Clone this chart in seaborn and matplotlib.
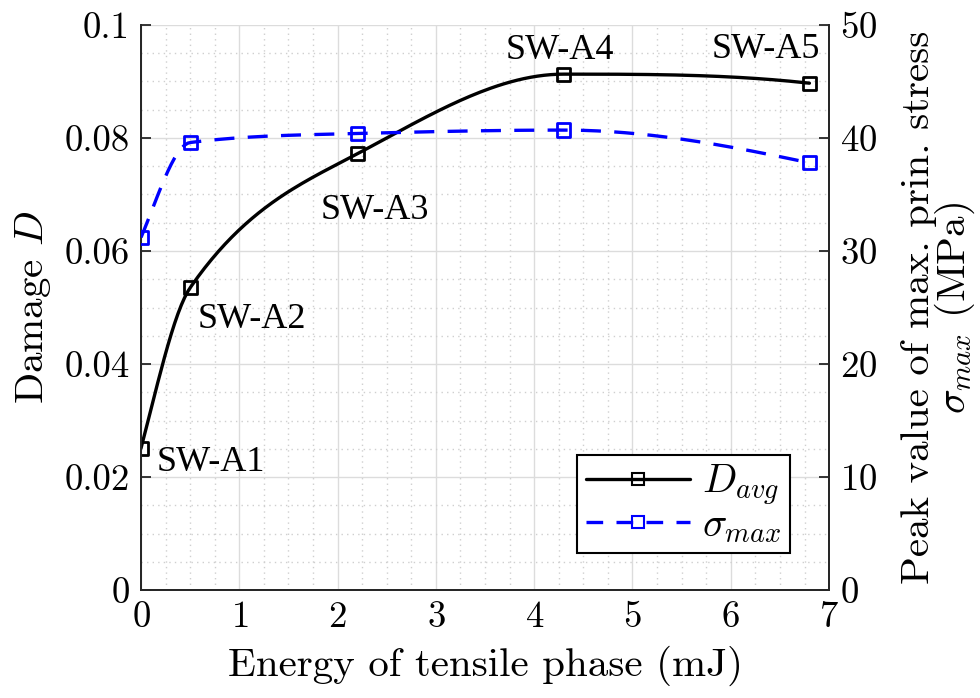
import numpy as np
import pandas as pd
import matplotlib
matplotlib.use("Agg")
import matplotlib.pyplot as plt
from matplotlib.lines import Line2D
from matplotlib.ticker import MultipleLocator, FuncFormatter
import seaborn as sns

# data
energy = [0.0, 0.5, 2.2, 4.3, 6.8]
damage = [0.0251, 0.0535, 0.0772, 0.0913, 0.0897]
sigma_max = [31.2, 39.6, 40.4, 40.7, 37.8]
specimens = ["SW-A1", "SW-A2", "SW-A3", "SW-A4", "SW-A5"]
label_x = [0.16, 0.58, 1.83, 3.71, 5.81]
label_y = [0.0225, 0.0478, 0.0671, 0.0954, 0.0956]


def pchip(x, y, n=200):
    # shape preserving cubic through the measured points (how the line is drawn)
    x = np.asarray(x, float)
    y = np.asarray(y, float)
    h = np.diff(x)
    d = np.diff(y) / h
    m = np.zeros_like(y)
    for k in range(1, len(x) - 1):
        if d[k - 1] * d[k] > 0:
            w1 = 2 * h[k] + h[k - 1]
            w2 = h[k] + 2 * h[k - 1]
            m[k] = (w1 + w2) / (w1 / d[k - 1] + w2 / d[k])
    m[0] = ((2 * h[0] + h[1]) * d[0] - h[0] * d[1]) / (h[0] + h[1])
    if np.sign(m[0]) != np.sign(d[0]):
        m[0] = 0
    elif np.sign(d[0]) != np.sign(d[1]) and abs(m[0]) > abs(3 * d[0]):
        m[0] = 3 * d[0]
    m[-1] = ((2 * h[-1] + h[-2]) * d[-1] - h[-1] * d[-2]) / (h[-1] + h[-2])
    if np.sign(m[-1]) != np.sign(d[-1]):
        m[-1] = 0
    elif np.sign(d[-1]) != np.sign(d[-2]) and abs(m[-1]) > abs(3 * d[-1]):
        m[-1] = 3 * d[-1]
    xs = np.linspace(x[0], x[-1], n)
    idx = np.clip(np.searchsorted(x, xs) - 1, 0, len(x) - 2)
    t = (xs - x[idx]) / h[idx]
    h00 = 2 * t**3 - 3 * t**2 + 1
    h10 = t**3 - 2 * t**2 + t
    h01 = -2 * t**3 + 3 * t**2
    h11 = t**3 - t**2
    ys = h00 * y[idx] + h10 * h[idx] * m[idx] + h01 * y[idx + 1] + h11 * h[idx] * m[idx + 1]
    return xs, ys


sns.set_style("white")
plt.rcParams["font.family"] = "serif"
plt.rcParams["font.serif"] = ["cmr10"]
plt.rcParams["mathtext.fontset"] = "cm"
plt.rcParams["axes.formatter.use_mathtext"] = True
plt.rcParams["axes.unicode_minus"] = False
plt.rcParams["text.color"] = "black"
plt.rcParams["axes.labelcolor"] = "black"

fs_tick = 26.5
fs_lab = 29.5
fs_note = 26
spine_col = "#262626"

fig = plt.figure(figsize=(9.8, 6.98), dpi=100)
ax = fig.add_axes([0.1439, 0.1547, 0.7021, 0.8095])
ax2 = ax.twinx()

df = pd.DataFrame({"energy": energy, "damage": damage, "sigma": sigma_max})

xs, ys = pchip(energy, damage)
sns.lineplot(x=xs, y=ys, ax=ax, color="black", lw=2.4, sort=False, zorder=3)
sns.scatterplot(data=df, x="energy", y="damage", ax=ax, marker="s", s=90,
                facecolor="none", edgecolor="black", linewidth=2, zorder=4)

xs2, ys2 = pchip(energy, sigma_max)
sns.lineplot(x=xs2, y=ys2, ax=ax2, color="#0000ff", lw=2.4, sort=False,
             dashes=False, zorder=3)
ax2.lines[-1].set_dashes([6, 4])
sns.scatterplot(data=df, x="energy", y="sigma", ax=ax2, marker="s", s=90,
                facecolor="none", edgecolor="#0000ff", linewidth=2, zorder=4)

for name, lx, ly in zip(specimens, label_x, label_y):
    ax.text(lx, ly, name, fontsize=fs_note, family="Liberation Serif",
            color="black", ha="left", va="center", zorder=5)

ax.set_xlim(0, 7)
ax.set_ylim(0, 0.1)
ax2.set_ylim(0, 50)
ax.xaxis.set_major_locator(MultipleLocator(1))
ax.xaxis.set_minor_locator(MultipleLocator(0.25))
ax.yaxis.set_major_locator(MultipleLocator(0.02))
ax.yaxis.set_minor_locator(MultipleLocator(0.005))
ax2.yaxis.set_major_locator(MultipleLocator(10))
ax.yaxis.set_major_formatter(FuncFormatter(
    lambda v, p: "0" if v == 0 else ("0.1" if abs(v - 0.1) < 1e-9 else f"{v:.2f}")))

ax.grid(which="major", color="#dcdcdc", lw=1.0, ls="-")
ax.grid(which="minor", color="#cfcfcf", lw=1.0, ls=(0, (1, 3)))
ax.set_axisbelow(True)

ax.tick_params(axis="both", which="major", direction="in", length=7, width=1.3,
               labelsize=fs_tick, colors=spine_col, labelcolor="black", pad=8)
ax.tick_params(axis="both", which="minor", length=0)
ax2.tick_params(axis="y", which="major", direction="in", length=7, width=1.3,
                labelsize=fs_tick, colors=spine_col, labelcolor="black", pad=8)

for a in (ax, ax2):
    for s in a.spines.values():
        s.set_color(spine_col)
        s.set_linewidth(1.3)
    a.spines["top"].set_visible(False)

ax.set_xlabel("Energy of tensile phase (mJ)", fontsize=fs_lab, labelpad=8)
ax.set_ylabel("Damage $D$", fontsize=fs_lab, labelpad=8)
ax2.set_ylabel("Peak value of max. prin. stress\n$\\sigma_{max}$ (MPa)",
               fontsize=fs_lab, labelpad=17, linespacing=0.85)

handles = [
    Line2D([], [], color="black", lw=2.4, marker="s", markersize=8,
           markerfacecolor="none", markeredgewidth=1.5),
    Line2D([], [], color="#0000ff", lw=2.4, ls=(0, (5, 4)), marker="s",
           markersize=8, markerfacecolor="none", markeredgewidth=1.5),
]
leg = ax2.legend(handles, ["$D_{avg}$", "$\\sigma_{max}$"], loc="lower right",
                 bbox_to_anchor=(0.943, 0.065), borderaxespad=0, fontsize=29,
                 handlelength=2.6, frameon=True, fancybox=False, framealpha=1,
                 borderpad=0.2, labelspacing=0.0, handletextpad=0.3)
leg.get_frame().set_edgecolor("black")
leg.get_frame().set_linewidth(1.5)

fig.savefig("out.png", dpi=100)
